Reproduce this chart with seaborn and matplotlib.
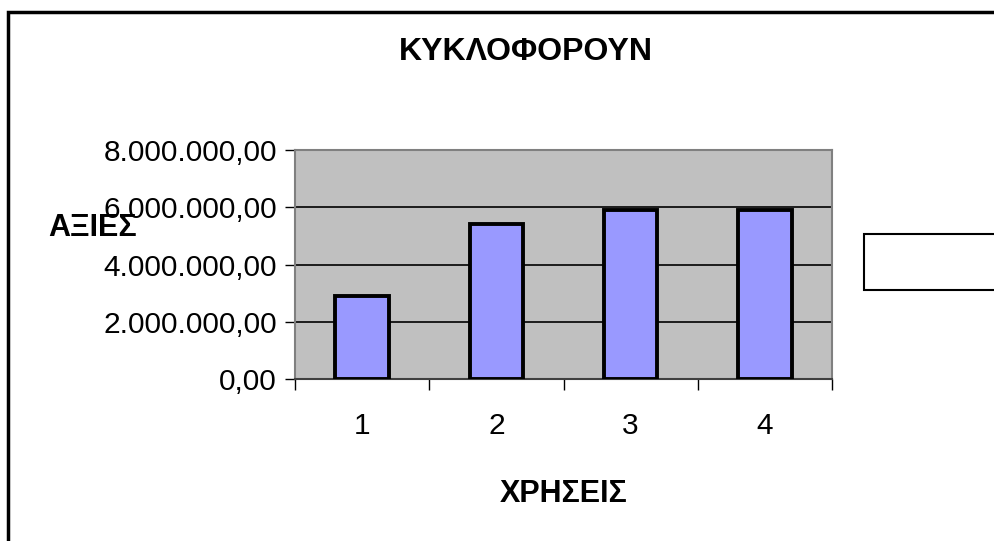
import seaborn as sns
import matplotlib.pyplot as plt
import pandas as pd
from matplotlib.patches import Rectangle
from matplotlib.ticker import FuncFormatter, FixedLocator

# Data
years = ["1", "2", "3", "4"]
values = [2900000, 5410000, 5920000, 5920000]

title = "ΚΥΚΛΟΦΟΡΟΥΝ"
x_label = "ΧΡΗΣΕΙΣ"
y_label = "ΑΞΙΕΣ"


def greek_number(v, pos=None):
    s = f"{v:,.2f}"
    return s.replace(",", "X").replace(".", ",").replace("X", ".")


df = pd.DataFrame({"year": years, "value": values})

sns.set_style("white")
plt.rcParams["font.family"] = ["Liberation Sans", "DejaVu Sans"]
plt.rcParams["text.color"] = "black"
plt.rcParams["axes.labelcolor"] = "black"
plt.rcParams["xtick.color"] = "black"
plt.rcParams["ytick.color"] = "black"

fig = plt.figure(figsize=(9.95, 5.41), dpi=100)
ax = fig.add_axes([295 / 995, 1 - 379 / 541, 537 / 995, 229 / 541])
ax.set_facecolor("#C0C0C0")

sns.barplot(
    data=df,
    x="year",
    y="value",
    color="#9999FF",
    saturation=1,
    edgecolor="black",
    linewidth=2.8,
    width=0.4,
    ax=ax,
    zorder=3,
)

ax.set_ylim(0, 8000000)
ax.set_xlim(-0.5, 3.5)
ax.set_yticks([0, 2000000, 4000000, 6000000, 8000000])
ax.yaxis.set_major_formatter(FuncFormatter(greek_number))
ax.yaxis.grid(True, color="black", linewidth=1.2, zorder=1)
ax.set_axisbelow(True)

# category ticks sit between the bars
ax.xaxis.set_minor_locator(FixedLocator([-0.5, 0.5, 1.5, 2.5, 3.5]))
ax.tick_params(axis="x", which="major", length=0, pad=24, labelsize=21.5)
ax.tick_params(axis="x", which="minor", length=8, width=1, color="black",
               direction="out", bottom=True)
ax.tick_params(axis="y", length=7, width=1, color="black", direction="out",
               left=True, pad=6, labelsize=21.5)

for side in ["top", "right", "left"]:
    ax.spines[side].set_color("#808080")
    ax.spines[side].set_linewidth(1.5)
ax.spines["bottom"].set_color("#404040")
ax.spines["bottom"].set_linewidth(1.5)

ax.set_xlabel(x_label, fontsize=22, fontweight="bold", labelpad=28)
ax.set_ylabel("")

fig.text(526 / 995, 1 - 52 / 541, title, fontsize=23, fontweight="bold",
         ha="center", va="center")
fig.text(48 / 995, 1 - 228 / 541, y_label, fontsize=22, fontweight="bold",
         ha="left", va="center")

# empty legend box
fig.add_artist(Rectangle((864 / 995, 1 - 290 / 541), 0.2, 56 / 541,
                         transform=fig.transFigure, facecolor="white",
                         edgecolor="black", linewidth=1.5))
# chart frame
fig.add_artist(Rectangle((8 / 995, -0.1), 1.1, 1.1 - 12 / 541,
                         transform=fig.transFigure, facecolor="none",
                         edgecolor="black", linewidth=2.5))

fig.savefig("out.png", dpi=100)
